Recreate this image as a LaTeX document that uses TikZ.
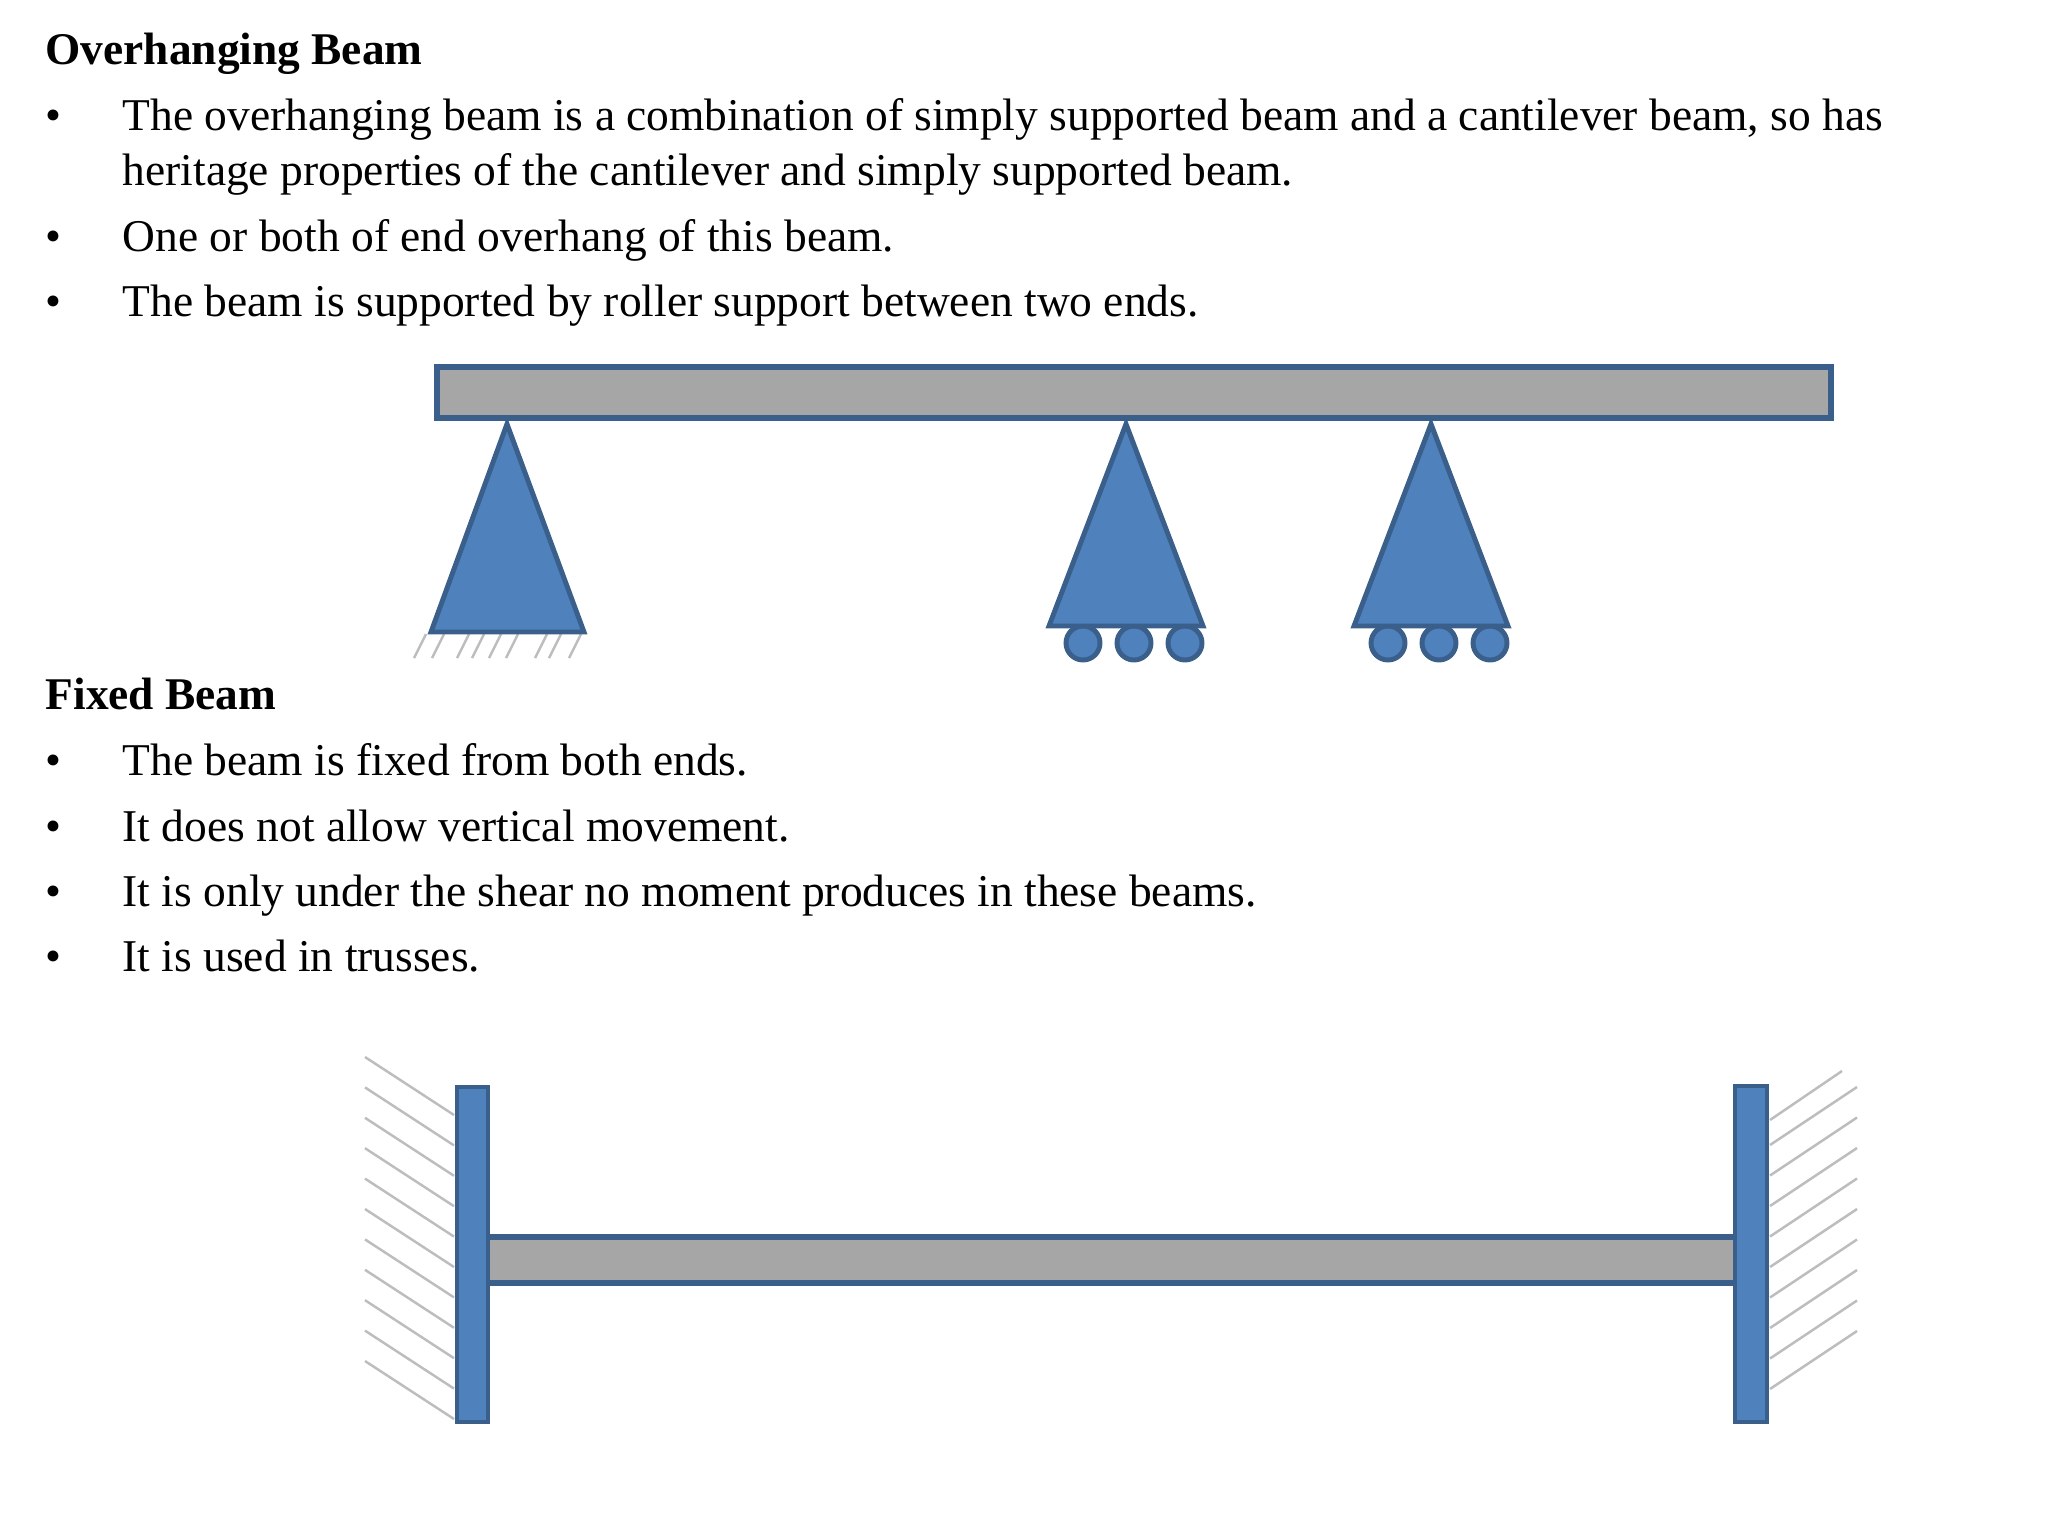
\documentclass[tikz,border=0pt]{standalone}
\usepackage{fontspec}
\setmainfont{Liberation Serif}
\definecolor{beamblue}{HTML}{4F81BD}
\definecolor{beamedge}{HTML}{3A5F8B}
\definecolor{beamgray}{HTML}{A6A6A6}
\definecolor{hatchgray}{HTML}{BDBDBD}
\tikzset{
  heading/.style={anchor=base west,inner sep=0pt,font=\fontsize{12.9pt}{14pt}\selectfont\bfseries},
  bodytext/.style={anchor=base west,inner sep=0pt,font=\fontsize{12.93pt}{14pt}\selectfont},
  beam/.style={fill=beamgray,draw=beamedge,line width=1.45pt},
  part/.style={fill=beamblue,draw=beamedge,line width=1.4pt,line join=miter},
  hatch/.style={draw=hatchgray,line width=0.7pt}
}
\begin{document}
\begin{tikzpicture}[x=0.01cm,y=-0.01cm]
    \useasboundingbox (0,0) rectangle (2048,1536);

    % Overhanging beam text
    \node[heading] (overtitle) at (45,64) {Overhanging Beam};
    \node[bodytext] (overdotone) at (45,130) {•};
    \node[bodytext] (overlineone) at (122,130) {The overhanging beam is a combination of simply supported beam and a cantilever beam, so has};
    \node[bodytext] (overlinetwo) at (122,185) {heritage properties of the cantilever and simply supported beam.};
    \node[bodytext] (overdottwo) at (45,251) {•};
    \node[bodytext] (overlinethree) at (122,251) {One or both of end overhang of this beam.};
    \node[bodytext] (overdotthree) at (45,316) {•};
    \node[bodytext] (overlinefour) at (122,316) {The beam is supported by roller support between two ends.};

    % Fixed beam text
    \node[heading] (fixedtitle) at (45,709) {Fixed Beam};
    \node[bodytext] (fixeddotone) at (45,775) {•};
    \node[bodytext] (fixedlineone) at (122,775) {The beam is fixed from both ends.};
    \node[bodytext] (fixeddottwo) at (45,841) {•};
    \node[bodytext] (fixedlinetwo) at (122,841) {It does not allow vertical movement.};
    \node[bodytext] (fixeddotthree) at (45,906) {•};
    \node[bodytext] (fixedlinethree) at (122,906) {It is only under the shear no moment produces in these beams.};
    \node[bodytext] (fixeddotfour) at (45,971) {•};
    \node[bodytext] (fixedlinefour) at (122,971) {It is used in trusses.};

    % Overhanging beam
    \draw[beam] (437,367) rectangle (1831,418);

    % Pinned support
    \foreach \x in {414,432,457,472,489,506,535,549,569}
      \draw[hatch] (\x,658) -- (\x+12,634);
    \draw[part] (507,424) -- (584,632) -- (431,632) -- cycle;

    % Roller supports
    \foreach \x in {1126,1431} {
      \draw[part] (\x-43,643) circle (17);
      \draw[part] (\x+8,643) circle (17);
      \draw[part] (\x+59,643) circle (17);
      \draw[part] (\x,424) -- (\x+77,626) -- (\x-77,626) -- cycle;
    }

    % Fixed beam
    \draw[beam] (480,1237) rectangle (1740,1283);

    % Walls
    \foreach \y in {0,...,10}
      \draw[hatch] (365,1057+30.4*\y) -- (454,1115+30.4*\y);
    \draw[hatch] (1770,1120) -- (1842,1071);
    \foreach \y in {0,...,8}
      \draw[hatch] (1770,1145+30.5*\y) -- (1857,1087+30.5*\y);

    % End plates
    \draw[part] (457,1087) rectangle (488,1422);
    \draw[part] (1735,1086) rectangle (1767,1422);

\end{tikzpicture}
\end{document}
